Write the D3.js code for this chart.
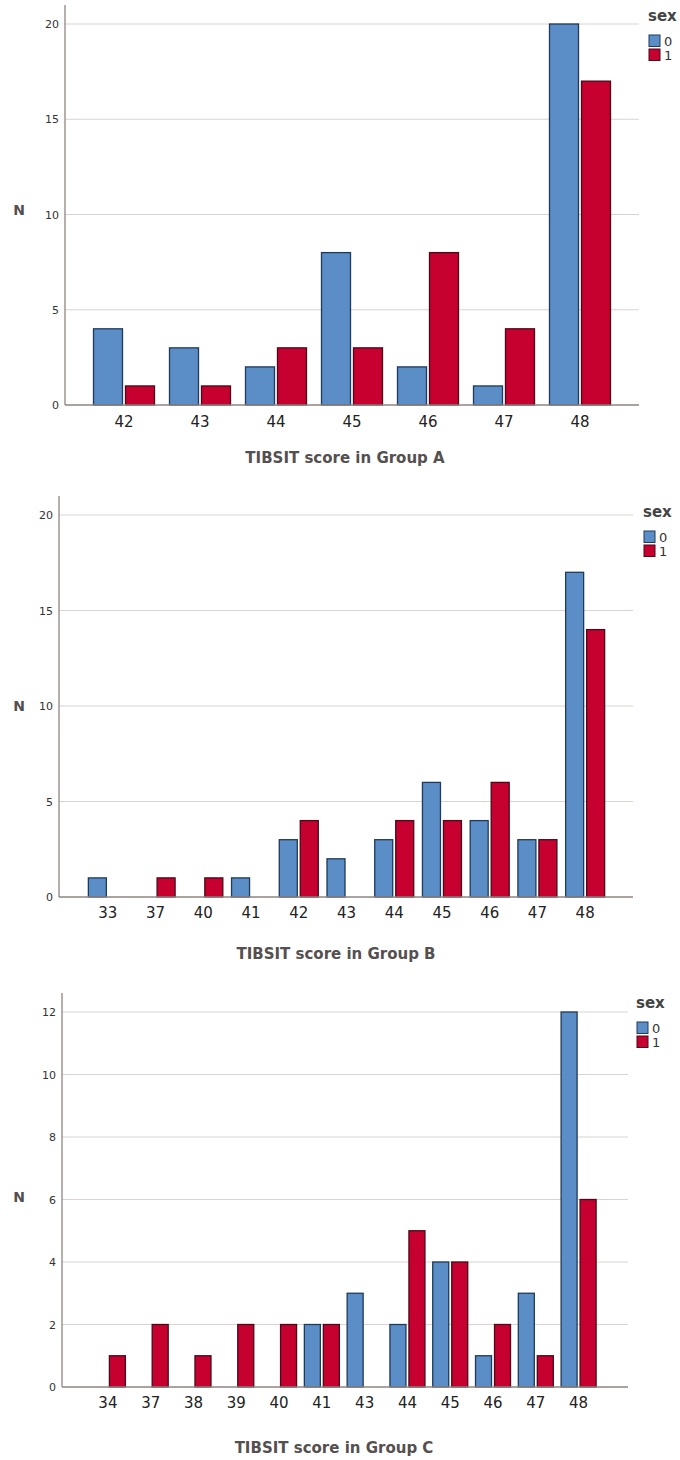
<!DOCTYPE html>
<html><head><meta charset="utf-8">
<script src="https://cdn.jsdelivr.net/npm/d3@7"></script>
<style>body{margin:0;background:#fff}svg{display:block}</style>
</head><body>
<svg id="c" width="680" height="1460"></svg>
<script>
// ---- data ----
const catsA = ["42","43","44","45","46","47","48"];
const sex0A = [4,3,2,8,2,1,20];
const sex1A = [1,1,3,3,8,4,17];
const ticksA = [0,5,10,15,20];

const catsB = ["33","37","40","41","42","43","44","45","46","47","48"];
const sex0B = [1,0,0,1,3,2,3,6,4,3,17];
const sex1B = [0,1,1,0,4,0,4,4,6,3,14];
const ticksB = [0,5,10,15,20];

const catsC = ["34","37","38","39","40","41","43","44","45","46","47","48"];
const sex0C = [0,0,0,0,0,2,3,2,4,1,3,12];
const sex1C = [1,2,1,2,2,2,0,5,4,2,1,6];
const ticksC = [0,2,4,6,8,10,12];

const titles = ["TIBSIT score in Group A","TIBSIT score in Group B","TIBSIT score in Group C"];
const legendLabels = ["0","1"];

// ---- style ----
const fills = ["#5b8ec6","#c6002f"];
const strokes = ["#1f3a5a","#4a0a1a"];
const svg = d3.select("#c");

const panels = [
  {cats:catsA,s0:sex0A,s1:sex1A,ticks:ticksA,title:titles[0],
   ax:65,r:[86,618],gEnd:639,y0:405,yT:24,aTop:5,bw:29,gap:3,xl:427,ty:463,tx:345,lx:648,ly:21,nY:215},
  {cats:catsB,s0:sex0B,s1:sex1B,ticks:ticksB,title:titles[1],
   ax:59,r:[84,609],gEnd:633,y0:897,yT:515,aTop:496,bw:18,gap:3,xl:918,ty:959,tx:336,lx:643,ly:517,nY:711},
  {cats:catsC,s0:sex0C,s1:sex1C,ticks:ticksC,title:titles[2],
   ax:62,r:[86.5,600],gEnd:628,y0:1387,yT:1012,aTop:993,bw:16,gap:3,xl:1408,ty:1453,tx:334,lx:636,ly:1008,nY:1202}
];

panels.forEach(p=>{
  const g = svg.append("g");
  const x = d3.scaleBand().domain(p.cats).range(p.r).padding(0);
  const maxT = d3.max(p.ticks);
  const y = d3.scaleLinear().domain([0,maxT]).range([p.y0,p.yT]);

  // gridlines
  g.selectAll("line.grid").data(p.ticks.filter(t=>t>0)).join("line")
    .attr("x1",p.ax).attr("x2",p.gEnd).attr("y1",d=>y(d)).attr("y2",d=>y(d))
    .attr("stroke","#dcd3d0").attr("stroke-width",1.2);

  // y tick labels via axis
  const yAxis = d3.axisLeft(y).tickValues(p.ticks).tickSize(0).tickPadding(6);
  const ya = g.append("g").attr("transform",`translate(${p.ax},0)`).call(yAxis);
  ya.select(".domain").remove();
  ya.selectAll("text").attr("font-family","DejaVu Sans, sans-serif").attr("font-size",11).attr("fill","#333");

  // bars
  const data = [];
  p.cats.forEach((c,i)=>{
    [p.s0[i],p.s1[i]].forEach((v,k)=>{ if(v>0) data.push({c,v,k}); });
  });
  const total = 2*p.bw+p.gap;
  g.selectAll("rect.bar").data(data).join("rect")
    .attr("x",d=>x(d.c)+x.bandwidth()/2 - total/2 + d.k*(p.bw+p.gap))
    .attr("width",p.bw)
    .attr("y",d=>y(d.v))
    .attr("height",d=>y(0)-y(d.v))
    .attr("fill",d=>fills[d.k]).attr("stroke",d=>strokes[d.k]).attr("stroke-width",1.3);

  // axes lines
  g.append("line").attr("x1",p.ax).attr("x2",p.ax).attr("y1",p.aTop).attr("y2",p.y0)
    .attr("stroke","#8f8480").attr("stroke-width",1.3);
  g.append("line").attr("x1",p.ax).attr("x2",p.gEnd).attr("y1",p.y0).attr("y2",p.y0)
    .attr("stroke","#8f8480").attr("stroke-width",1.3);

  // x tick labels via axis
  const xAxis = d3.axisBottom(x).tickSize(0).tickPadding(0);
  const xa = g.append("g").attr("transform",`translate(0,${p.xl})`).call(xAxis);
  xa.select(".domain").remove();
  xa.selectAll("text").attr("dy",0).attr("font-family","DejaVu Sans, sans-serif").attr("font-size",15).attr("fill","#222");

  // x title
  g.append("text").attr("x",p.tx).attr("y",p.ty).attr("text-anchor","middle")
    .attr("font-family","DejaVu Sans, sans-serif").attr("font-weight","bold")
    .attr("font-size",15).attr("fill","#555050").text(p.title);

  // N label
  g.append("text").attr("x",19).attr("y",p.nY).attr("text-anchor","middle")
    .attr("font-family","DejaVu Sans, sans-serif").attr("font-weight","bold")
    .attr("font-size",14).attr("fill","#555050").text("N");

  // legend
  const lg = g.append("g").attr("transform",`translate(${p.lx},${p.ly})`);
  lg.append("text").attr("x",0).attr("y",0).attr("font-family","DejaVu Sans, sans-serif")
    .attr("font-weight","bold").attr("font-size",15).attr("fill","#444").text("sex");
  legendLabels.forEach((l,k)=>{
    lg.append("rect").attr("x",1).attr("y",14+k*14).attr("width",11).attr("height",11.5)
      .attr("fill",fills[k]).attr("stroke",strokes[k]).attr("stroke-width",1);
    lg.append("text").attr("x",16).attr("y",25+k*14).attr("font-family","DejaVu Sans, sans-serif")
      .attr("font-size",13).attr("fill","#333").text(l);
  });
});
</script>
</body></html>
